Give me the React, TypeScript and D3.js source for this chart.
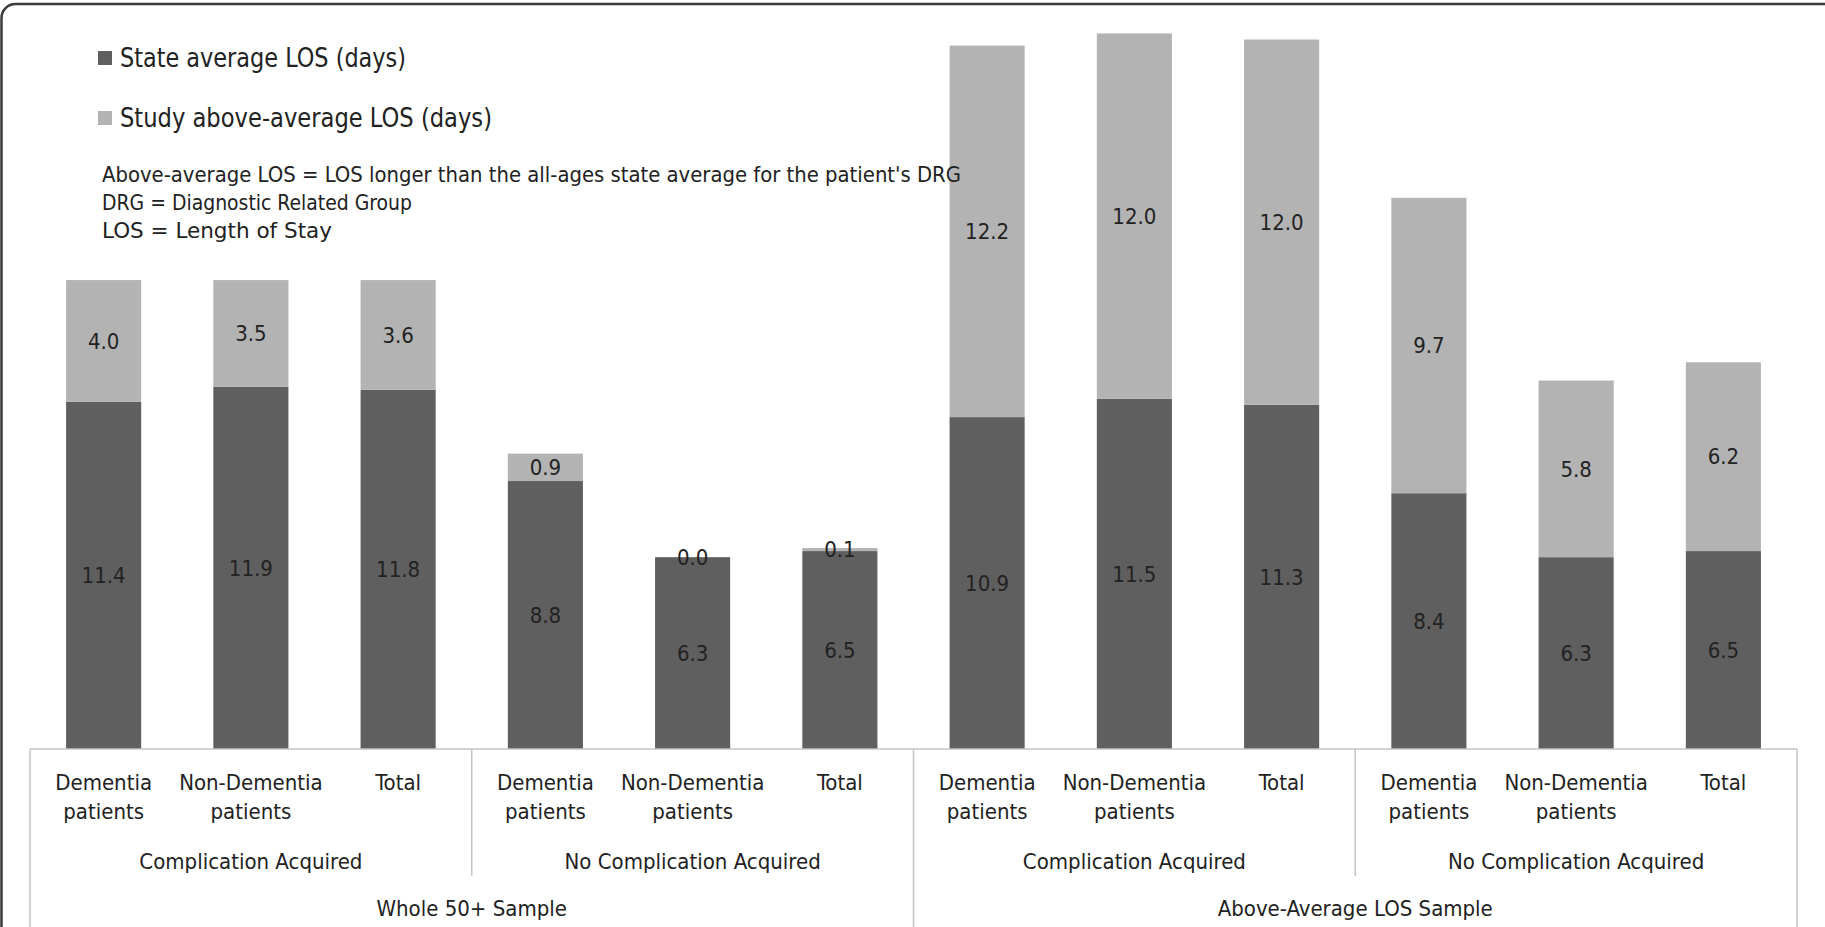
import React from "react";
import * as d3 from "d3";

// Bar categories (two-line tick labels), groups and super-groups
const categoryLabels: string[][] = [
  ["Dementia", "patients"],
  ["Non-Dementia", "patients"],
  ["Total"],
  ["Dementia", "patients"],
  ["Non-Dementia", "patients"],
  ["Total"],
  ["Dementia", "patients"],
  ["Non-Dementia", "patients"],
  ["Total"],
  ["Dementia", "patients"],
  ["Non-Dementia", "patients"],
  ["Total"],
];
const groupLabels = [
  "Complication Acquired",
  "No Complication Acquired",
  "Complication Acquired",
  "No Complication Acquired",
];
const sampleLabels = ["Whole 50+ Sample", "Above-Average LOS Sample"];

// Series values (days)
const stateAverage = [11.4, 11.9, 11.8, 8.8, 6.3, 6.5, 10.9, 11.5, 11.3, 8.4, 6.3, 6.5];
const studyAbove = [4.0, 3.5, 3.6, 0.9, 0.0, 0.1, 12.2, 12.0, 12.0, 9.7, 5.8, 6.2];

const seriesNames = ["State average LOS (days)", "Study above-average LOS (days)"];
const notes = [
  "Above-average LOS = LOS longer than the all-ages state average for the patient's DRG",
  "DRG = Diagnostic Related Group",
  "LOS = Length of Stay",
];

const W = 1825;
const H = 927;
const DARK = "#5f5f5f";
const LIGHT = "#b3b3b3";
const AXIS = "#c4c4c4";
const TEXT = "#222222";
const FONT = "'Liberation Sans Narrow', 'DejaVu Sans Condensed', 'Open Sans', sans-serif";

export default function App() {
  const axisLeft = 30;
  const axisRight = 1797;
  const baseY = 749;

  const idx = d3.range(stateAverage.length);
  const x = d3.scaleBand<number>().domain(idx).range([axisLeft, axisRight]).padding(0);
  const band = x.bandwidth();
  const barW = band * 0.51;
  const y = d3.scaleLinear().domain([0, 24]).range([baseY, baseY - 24 * 30.45]);

  const rows = idx.map((i) => ({ i, a: stateAverage[i], b: studyAbove[i] }));
  const stacked = d3.stack<any>().keys(["a", "b"])(rows);

  const fmt = d3.format(".1f");

  return (
    <svg width={W} height={H} style={{ display: "block", position: "absolute", left: 0, top: 0 }}>
      <rect x={0} y={0} width={W} height={H} fill="#ffffff" />
      {/* outer frame */}
      <rect x={1.5} y={4} width={W + 20} height={H + 40} rx={14} ry={14} fill="none" stroke="#3a3a3a" strokeWidth={2.5} />

      {/* stacked bars */}
      {stacked.map((layer, li) => (
        <g key={li} fill={li === 0 ? DARK : LIGHT}>
          {layer.map((d, i) => (
            <rect
              key={i}
              x={(x(i) as number) + (band - barW) / 2}
              y={y(d[1])}
              width={barW}
              height={Math.max(0, y(d[0]) - y(d[1]))}
            />
          ))}
        </g>
      ))}

      {/* data labels */}
      {stacked.map((layer, li) => (
        <g key={"l" + li} fontFamily={FONT} fontSize={22} fill={TEXT} textAnchor="middle">
          {layer.map((d, i) => (
            <text key={i} x={(x(i) as number) + band / 2} y={(y(d[0]) + y(d[1])) / 2} dy="0.35em">
              {fmt(d[1] - d[0])}
            </text>
          ))}
        </g>
      ))}

      {/* multi-level category axis */}
      <g stroke={AXIS} strokeWidth={1.5} fill="none">
        <line x1={axisLeft} x2={axisRight} y1={baseY} y2={baseY} />
        {d3.range(0, 13, 3).map((k) => {
          const xx = axisLeft + k * band;
          const full = k % 6 === 0;
          return <line key={k} x1={xx} x2={xx} y1={baseY} y2={full ? H + 5 : 876} />;
        })}
      </g>
      <g fontFamily={FONT} fontSize={22} fill={TEXT} textAnchor="middle">
        {categoryLabels.map((lines, i) =>
          lines.map((t, j) => (
            <text key={i + "-" + j} x={(x(i) as number) + band / 2} y={790 + j * 29}>
              {t}
            </text>
          ))
        )}
        {groupLabels.map((t, g) => (
          <text key={"g" + g} x={axisLeft + (g * 3 + 1.5) * band} y={869}>
            {t}
          </text>
        ))}
        {sampleLabels.map((t, s) => (
          <text key={"s" + s} x={axisLeft + (s * 6 + 3) * band} y={916}>
            {t}
          </text>
        ))}
      </g>

      {/* legend */}
      <g fontFamily={FONT} fill={TEXT}>
        <rect x={98} y={51} width={14} height={14} fill={DARK} />
        <text x={120} y={67} fontSize={26} textLength={286} lengthAdjust="spacingAndGlyphs">
          {seriesNames[0]}
        </text>
        <rect x={98} y={111} width={14} height={14} fill={LIGHT} />
        <text x={120} y={127} fontSize={26} textLength={372} lengthAdjust="spacingAndGlyphs">
          {seriesNames[1]}
        </text>
      </g>

      {/* notes */}
      <g fontFamily={FONT} fill={TEXT} fontSize={22}>
        {notes.map((t, k) => (
          <text
            key={k}
            x={102}
            y={182 + k * 28}
            textLength={[859, 310, 230][k]}
            lengthAdjust="spacingAndGlyphs"
          >
            {t}
          </text>
        ))}
      </g>
    </svg>
  );
}
